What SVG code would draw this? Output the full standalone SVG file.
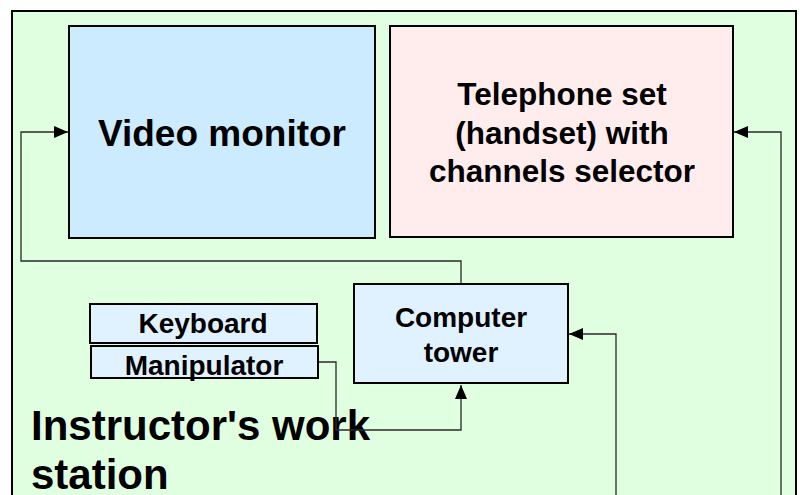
<svg xmlns="http://www.w3.org/2000/svg" width="800" height="495" viewBox="0 0 800 495">
<defs>
<style>
.box{stroke:#000;stroke-width:2}
.t{font-family:"Liberation Sans",Arial,sans-serif;font-weight:bold;fill:#000;text-anchor:middle}
.big{font-family:"Liberation Sans",Arial,sans-serif;font-weight:bold;font-size:42px;fill:#000}
.c{fill:none;stroke:#2a2a2a;stroke-width:1.3}
</style>
<marker id="ah" viewBox="0 0 14 12" refX="14" refY="6" markerWidth="14" markerHeight="12" markerUnits="userSpaceOnUse" orient="auto">
<path d="M0,0 L14,6 L0,12 Z" fill="#000"/>
</marker>
</defs>
<rect width="800" height="495" fill="#fff"/>
<g id="station">
<rect x="12" y="11" width="784" height="500" fill="#E0FFE0" class="box"/>
<text x="31" y="440" class="big">Instructor's work</text>
<text x="31" y="489" class="big">station</text>
</g>
<g id="connectors">
<path class="c" d="M461,284 V261 H21 V132 H68" marker-end="url(#ah)"/>
<path class="c" d="M318,362 H336 V430 H461 V385" marker-end="url(#ah)"/>
<path class="c" d="M616,495 V334 H569" marker-end="url(#ah)"/>
<path class="c" d="M781,495 V132 H734" marker-end="url(#ah)"/>
</g>
<g id="video-monitor">
<rect x="69" y="26" width="306" height="212" fill="#CCEBFF" class="box"/>
<text x="222" y="146" class="t" font-size="37">Video monitor</text>
</g>
<g id="telephone">
<rect x="390" y="26" width="343" height="211" fill="#FFEDED" class="box"/>
<text x="562" y="105" class="t" font-size="31.5">Telephone set</text>
<text x="562" y="144" class="t" font-size="31.5">(handset) with</text>
<text x="562" y="182" class="t" font-size="31.5">channels selector</text>
</g>
<g id="computer">
<rect x="354" y="284" width="214" height="99" fill="#E0F2FF" class="box"/>
<text x="461" y="327" class="t" font-size="28">Computer</text>
<text x="461" y="362" class="t" font-size="28">tower</text>
</g>
<g id="keyboard">
<rect x="90" y="304" width="227" height="39" fill="#E0F2FF" class="box"/>
<text x="203" y="333" class="t" font-size="28">Keyboard</text>
</g>
<g id="manipulator">
<rect x="91" y="346" width="227" height="32" fill="#E0F2FF" class="box"/>
<text x="204" y="375" class="t" font-size="28">Manipulator</text>
</g>
</svg>
